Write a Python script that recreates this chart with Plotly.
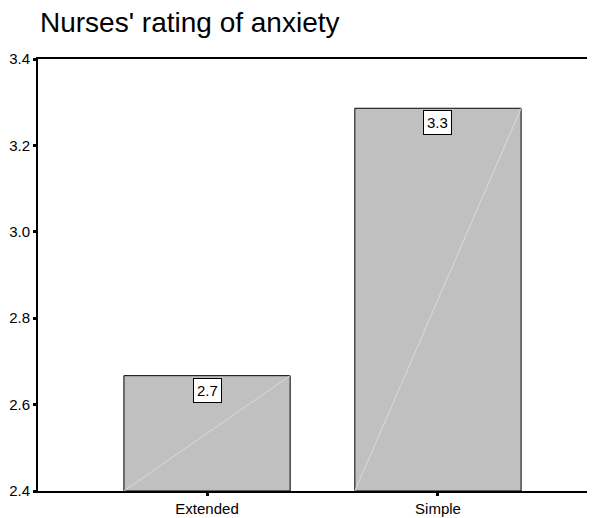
import plotly.graph_objects as go

categories = ["Extended", "Simple"]
values = [2.667, 3.286]
labels = ["2.7", "3.3"]
y_ticks = [2.4, 2.6, 2.8, 3.0, 3.2, 3.4]

base = 2.4
bar_w = 0.72
FONT = "Liberation Sans, Arial, Helvetica, sans-serif"

fig = go.Figure()
fig.add_trace(go.Bar(
    x=list(range(len(categories))), y=[v - base for v in values], base=base,
    width=bar_w, marker=dict(color="#c0c0c0", line=dict(color="black", width=1)),
    showlegend=False, hoverinfo="skip"))

# faint diagonal line inside each bar
for i, v in enumerate(values):
    fig.add_trace(go.Scatter(
        x=[i - bar_w / 2, i + bar_w / 2], y=[base, v], mode="lines",
        line=dict(color="#dadada", width=1), showlegend=False, hoverinfo="skip"))

for i, (v, t) in enumerate(zip(values, labels)):
    fig.add_annotation(x=i, y=v, text=t, showarrow=False, yanchor="top", yshift=-2,
                       bgcolor="white", bordercolor="black", borderwidth=1, borderpad=3,
                       font=dict(family=FONT, size=15, color="black"))

fig.update_layout(
    width=587, height=510,
    margin=dict(l=30, r=0, t=51, b=27),
    plot_bgcolor="white", paper_bgcolor="white",
    title=dict(text="Nurses' rating of anxiety", x=32 / 587, xref="container", xanchor="left",
               y=1 - 14.5 / 510, yref="container", yanchor="middle",
               font=dict(family=FONT, size=28, color="black")),
    font=dict(family=FONT, size=15, color="black"),
    xaxis=dict(range=[-0.732, 1.68], tickmode="array", tickvals=list(range(len(categories))),
               ticktext=categories, showline=True, linecolor="black", linewidth=2, mirror=True,
               ticks="outside", ticklen=3, tickwidth=3, tickcolor="black", showgrid=False,
               zeroline=False, tickfont=dict(size=15)),
    yaxis=dict(range=[2.4, 3.4], tickmode="array", tickvals=y_ticks,
               ticktext=[f"{t:.1f}" for t in y_ticks], showline=True, linecolor="black",
               linewidth=2, ticks="outside", ticklen=3, tickwidth=3, tickcolor="black",
               showgrid=False, zeroline=False, tickfont=dict(size=15)),
)

fig.write_html("out.html")
